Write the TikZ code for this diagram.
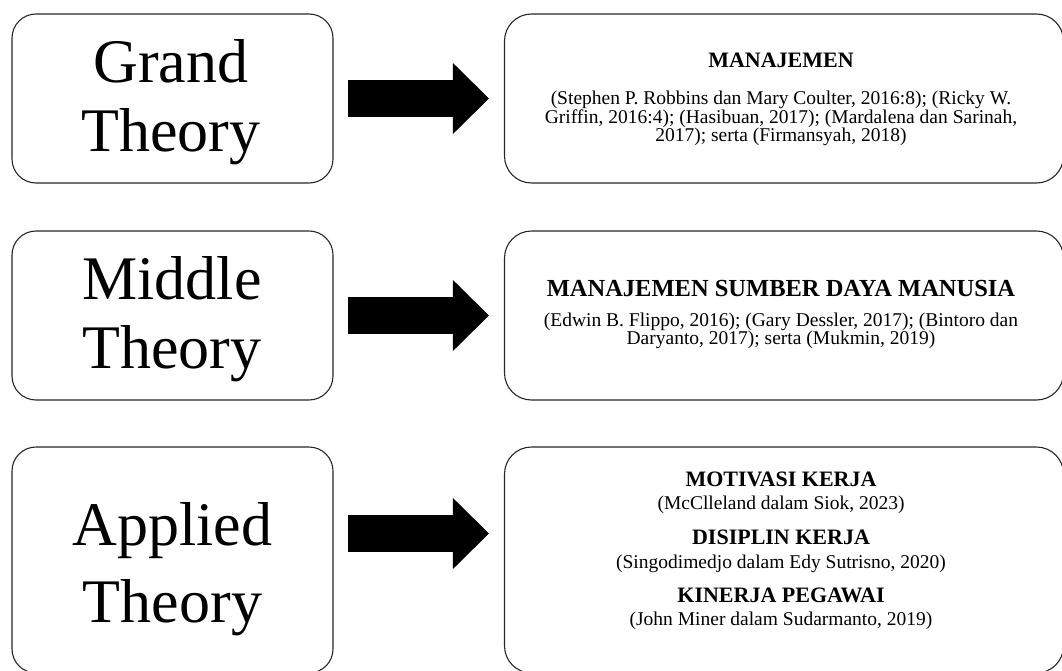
\documentclass[tikz,border=0pt]{standalone}
\usepackage{fontspec}
\setmainfont{Liberation Serif}
\usepackage{pgf,tikz}
\usetikzlibrary{arrows.meta}
\newcommand\citefont{\fontsize{19.5}{18.5}\selectfont\lineskiplimit -30pt\relax}
\tikzset{
  theory/.style={draw=black!85, line width=1.1pt, rounded corners=24pt, minimum width=321pt, minimum height=169pt, inner sep=0pt},
  theorytext/.style={inner sep=0pt, align=center, font=\fontsize{62}{69}\selectfont},
  source/.style={draw=black!85, line width=1.1pt, rounded corners=27pt, minimum width=559pt, minimum height=169pt, inner sep=0pt},
  head/.style={anchor=base, inner sep=0pt, font=\fontsize{22}{24}\selectfont\bfseries},
  cite/.style={inner sep=0pt, align=center, font=\citefont},
  fat/.style={line width=37pt, line cap=butt, -{Triangle[length=36pt,width=71pt,line width=0pt]}, shorten <=14pt, shorten >=15pt}
}

\begin{document}
\begin{tikzpicture}[line cap=round,line join=round,x=1pt,y=-1pt]
\useasboundingbox (0,0) rectangle (1062,671);
\node [theory] (grand) at (172.5,98.5) {};
\node [theory] (middle) at (172.5,315.5) {};
\node [theory, minimum height=226pt] (applied) at (172.5,560) {};
\node [source] (grandref) at (784,98.5) {};
\node [source] (middleref) at (784,315.5) {};
\node [source, minimum height=226pt] (appliedref) at (784,560) {};
\draw [fat] (grand) -- (grandref);
\draw [fat] (middle) -- (middleref);
\draw [fat] ([yshift=26.5pt]applied.east) -- ([yshift=26.5pt]appliedref.west);
% theory names
\node [theorytext] (grandname) at (171,102) {Grand\\Theory};
\node [theorytext] (middlename) at (172,319) {Middle\\Theory};
\node [theorytext, font=\fontsize{62}{77}\selectfont] (appliedname) at (172.5,569) {Applied\\Theory};
% grand theory sources
\node [head] (gh) at (781,68) {MANAJEMEN};
\node [cite] (gc) at (781,118.5) {(Stephen P. Robbins dan Mary Coulter, 2016:8); (Ricky W.\\Griffin, 2016:4); (Hasibuan, 2017); (Mardalena dan Sarinah,\\2017); serta (Firmansyah, 2018)};
% middle theory sources
\node [head, font=\fontsize{24.5}{26}\selectfont\bfseries] (mh) at (781,296) {MANAJEMEN SUMBER DAYA MANUSIA};
\node [cite] (mc) at (781,331) {(Edwin B. Flippo, 2016); (Gary Dessler, 2017); (Bintoro dan\\Daryanto, 2017); serta (Mukmin, 2019)};
% applied theory sources
\node [head] (ah1) at (781,486) {MOTIVASI KERJA};
\node [cite] (ac1) at (781,505) {(McClleland dalam Siok, 2023)};
\node [head] (ah2) at (781,544) {DISIPLIN KERJA};
\node [cite] (ac2) at (781,564) {(Singodimedjo dalam Edy Sutrisno, 2020)};
\node [head] (ah3) at (781,602) {KINERJA PEGAWAI};
\node [cite] (ac3) at (781,621) {(John Miner dalam Sudarmanto, 2019)};
\end{tikzpicture}
\end{document}
